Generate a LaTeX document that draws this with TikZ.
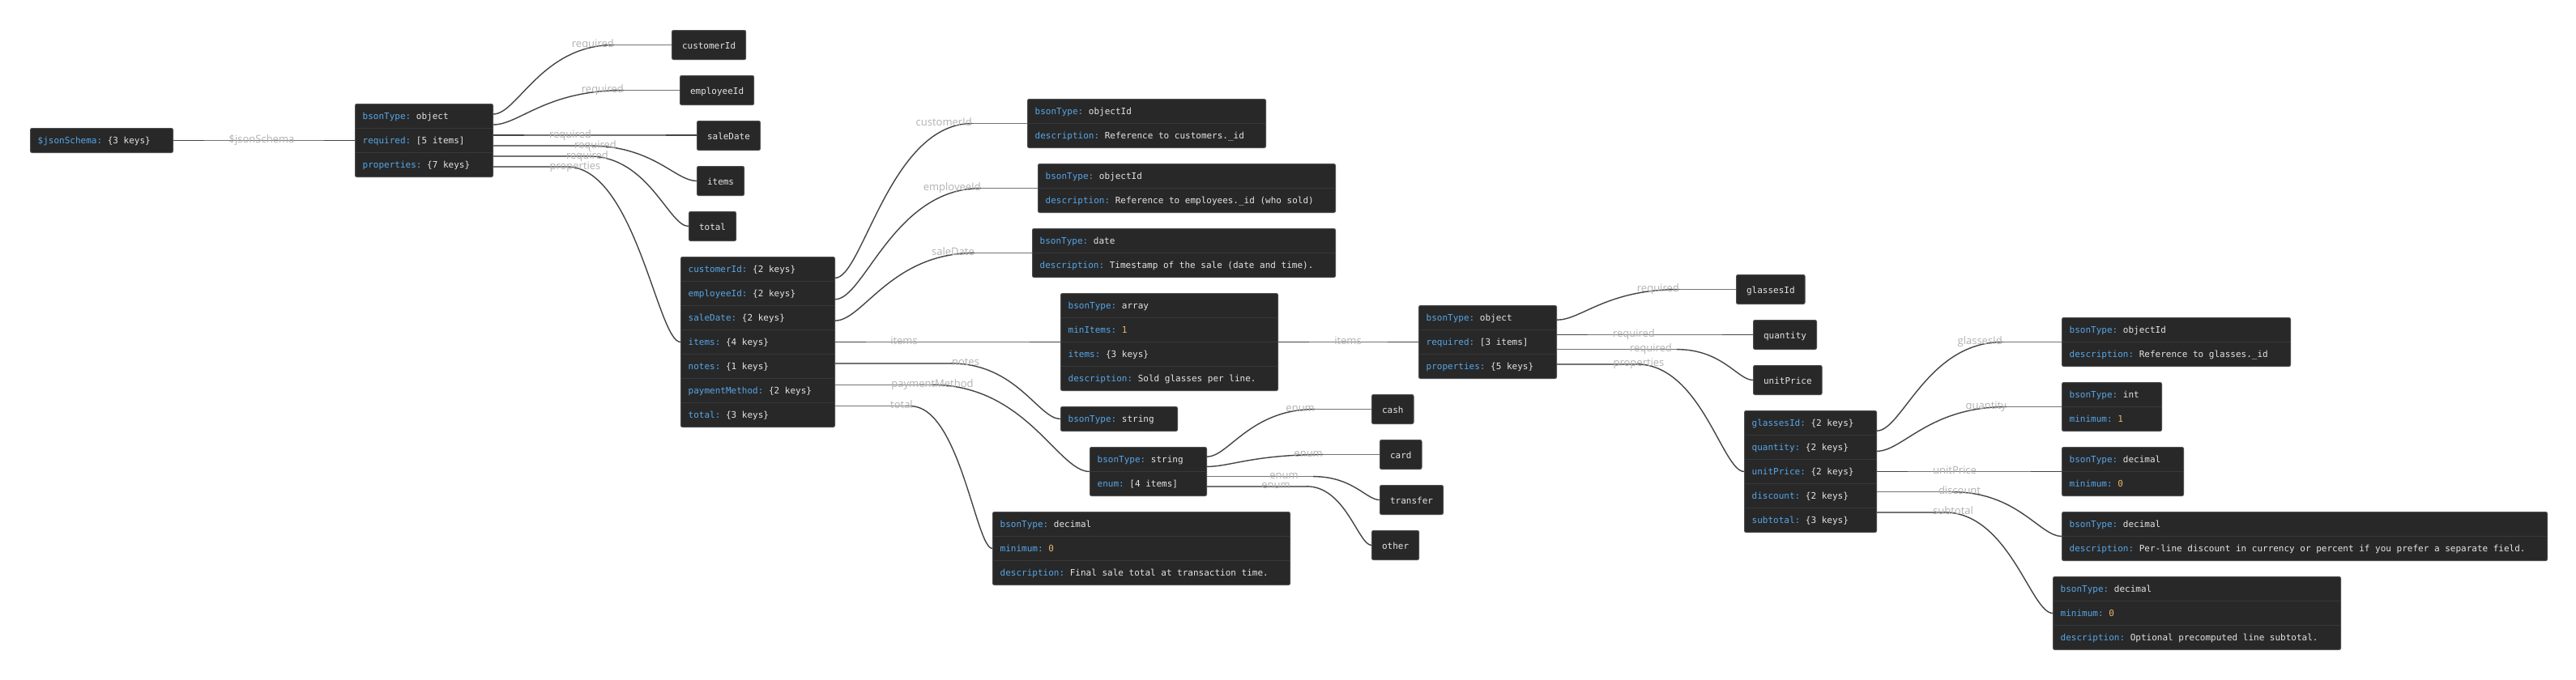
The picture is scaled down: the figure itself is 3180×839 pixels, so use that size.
\documentclass[tikz,border=0pt]{standalone}
\usepackage{fontspec}
\setmonofont{DejaVu Sans Mono}
\newfontfamily\edgefont{Open Sans}
\usetikzlibrary{calc,positioning}

\definecolor{boxfill}{HTML}{282828}
\definecolor{boxline}{HTML}{4D4D4D}
\definecolor{rowline}{HTML}{383838}
\definecolor{keyblue}{HTML}{56A6E8}
\definecolor{valwhite}{HTML}{E4E4E4}
\definecolor{numgold}{HTML}{E6B86A}
\definecolor{edgedark}{HTML}{444444}
\definecolor{edgelight}{HTML}{747474}
\definecolor{labelgray}{HTML}{B2B2B2}

\newcommand{\ky}[1]{\textcolor{keyblue}{#1}}
\newcommand{\nm}[1]{\textcolor{numgold}{#1}}

\tikzset{
  jbox/.style={draw=boxline, fill=boxfill, line width=1pt, rounded corners=2pt, inner sep=0pt, anchor=north west},
  jrow/.style={anchor=base west, inner sep=0pt, text=valwhite, font=\ttfamily\fontsize{11}{13}\selectfont},
  jleaf/.style={jbox, minimum height=36, inner xsep=12.5pt, text height=9.2pt, text depth=0pt, text=valwhite, font=\ttfamily\fontsize{11}{13}\selectfont},
  rowsep/.style={draw=rowline, line width=1pt},
  edgedk/.style={draw=edgedark, line width=1.4pt},
  edgelt/.style={draw=edgelight, line width=1.4pt},
  elabel/.style={text=labelgray, inner sep=0pt, font=\edgefont\fontsize{13}{15}\selectfont},
}

% name, top left, width, rows, row texts
\newcommand{\jsonbox}[5]{%
  \node[jbox, minimum width=#3, minimum height={#4*30}] (#1) at (#2) {};
  \foreach \rowtxt [count=\ri] in {#5}{%
    \node[jrow] at ($(#1.north west)+(9.5,{(\ri-0.5)*30+4.5})$) {\rowtxt};
    \ifnum\ri>1 \draw[rowsep] ($(#1.north west)+(0.5,{(\ri-1)*30})$) -- ++({#3-1},0);\fi
  }%
}
\newcommand{\jsonports}[2]{%
  \foreach \k in {1,...,#2}{\coordinate (#1p\k) at ($(#1.north east)!{\k/(#2+1)}!(#1.south east)$);}%
}

% source, target, label, end of curve
\newcommand{\edgeup}[4]{%
  \draw[edgedk] let \p1=(#1), \p2=(#2.west), \p3=(#4,0) in
    (\p1) .. controls ({\x1+0.2*(\x3-\x1)},\y1) and ({\x3-0.6*(\x3-\x1)},\y2) .. (\x3,\y2);
  \draw[edgelt] let \p2=(#2.west), \p3=(#4,0) in (\x3,\y2) -- (\p2);
  \path let \p2=(#2.west), \p3=(#4,0) in (\x3,\y2) node[elabel, anchor=base east, yshift=-3pt] {#3};
}
% source, target, label, start of curve, label x
\newcommand{\edgedown}[5]{%
  \draw[edgelt] let \p1=(#1), \p3=(#4,0) in (\p1) -- (\x3,\y1);
  \draw[edgedk] let \p1=(#1), \p2=(#2.west), \p3=(#4,0) in
    (\x3,\y1) .. controls ({\x3+0.6*(\x2-\x3)},\y1) and ({\x2-0.2*(\x2-\x3)},\y2) .. (\p2);
  \path let \p1=(#1), \p4=(#5,0) in (\x4,\y1) node[elabel, anchor=base, yshift=-3pt] {#3};
}
% source, target, label, label x
\newcommand{\edgeflat}[4]{%
  \draw[edgelt] (#1) -- (#1 -| #2.west);
  \draw[edgedk] (#1) -- ++(38,0);
  \draw[edgedk] (#1 -| #2.west) -- ++(-38,0);
  \path let \p1=(#1), \p4=(#4,0) in (\x4,\y1) node[elabel, anchor=base, yshift=-3pt] {#3};
}

\begin{document}
\begin{tikzpicture}[x=1pt, y=-1pt]
  \useasboundingbox[fill=white] (0,0) rectangle (3180,839);

  \jsonbox{js}{37,158}{176}{1}{{\ky{\$jsonSchema:} \{3 keys\}}}
  \jsonbox{root}{438,128}{170}{3}{{\ky{bsonType:} object},{\ky{required:} [5 items]},{\ky{properties:} \{7 keys\}}}
  \jsonbox{props}{840,317}{190}{7}{{\ky{customerId:} \{2 keys\}},{\ky{employeeId:} \{2 keys\}},{\ky{saleDate:} \{2 keys\}},{\ky{items:} \{4 keys\}},{\ky{notes:} \{1 keys\}},{\ky{paymentMethod:} \{2 keys\}},{\ky{total:} \{3 keys\}}}
  \jsonbox{cust}{1268,122}{294}{2}{{\ky{bsonType:} objectId},{\ky{description:} Reference to customers.\_id}}
  \jsonbox{empl}{1281,202}{367}{2}{{\ky{bsonType:} objectId},{\ky{description:} Reference to employees.\_id (who sold)}}
  \jsonbox{sdate}{1274,282}{374}{2}{{\ky{bsonType:} date},{\ky{description:} Timestamp of the sale (date and time).}}
  \jsonbox{arr}{1309,362}{268}{4}{{\ky{bsonType:} array},{\ky{minItems:} \nm{1}},{\ky{items:} \{3 keys\}},{\ky{description:} Sold glasses per line.}}
  \jsonbox{notesb}{1309,502}{144}{1}{{\ky{bsonType:} string}}
  \jsonbox{pay}{1345,552}{144}{2}{{\ky{bsonType:} string},{\ky{enum:} [4 items]}}
  \jsonbox{tot}{1225,632}{367}{3}{{\ky{bsonType:} decimal},{\ky{minimum:} \nm{0}},{\ky{description:} Final sale total at transaction time.}}
  \jsonbox{iobj}{1751,377}{170}{3}{{\ky{bsonType:} object},{\ky{required:} [3 items]},{\ky{properties:} \{5 keys\}}}
  \jsonbox{pobj}{2153,507}{163}{5}{{\ky{glassesId:} \{2 keys\}},{\ky{quantity:} \{2 keys\}},{\ky{unitPrice:} \{2 keys\}},{\ky{discount:} \{2 keys\}},{\ky{subtotal:} \{3 keys\}}}
  \jsonbox{gid}{2545,392}{282}{2}{{\ky{bsonType:} objectId},{\ky{description:} Reference to glasses.\_id}}
  \jsonbox{qty}{2545,472}{123}{2}{{\ky{bsonType:} int},{\ky{minimum:} \nm{1}}}
  \jsonbox{upr}{2545,552}{150}{2}{{\ky{bsonType:} decimal},{\ky{minimum:} \nm{0}}}
  \jsonbox{disc}{2545,632}{599}{2}{{\ky{bsonType:} decimal},{\ky{description:} Per-line discount in currency or percent if you prefer a separate field.}}
  \jsonbox{sub}{2534,712}{355}{3}{{\ky{bsonType:} decimal},{\ky{minimum:} \nm{0}},{\ky{description:} Optional precomputed line subtotal.}}

  \node[jleaf] (lcust) at (829,37) {customerId};
  \node[jleaf] (lempl) at (839,93) {employeeId};
  \node[jleaf] (lsale) at (860,149) {saleDate};
  \node[jleaf] (litems) at (860,205) {items};
  \node[jleaf] (ltotal) at (850,261) {total};
  \node[jleaf] (ecash) at (1693,487) {cash};
  \node[jleaf] (ecard) at (1703,543) {card};
  \node[jleaf] (etransfer) at (1703,599) {transfer};
  \node[jleaf] (eother) at (1693,655) {other};
  \node[jleaf] (lglass) at (2143,339) {glassesId};
  \node[jleaf] (lqty) at (2164,395) {quantity};
  \node[jleaf] (lprice) at (2164,451) {unitPrice};

  \jsonports{js}{1}
  \jsonports{root}{6}
  \jsonports{props}{7}
  \jsonports{arr}{1}
  \jsonports{pay}{4}
  \jsonports{iobj}{4}
  \jsonports{pobj}{5}

  \edgeflat{jsp1}{root}{\$jsonSchema}{323}
  \edgeup{rootp1}{lcust}{required}{758}
  \edgeup{rootp2}{lempl}{required}{770}
  \edgeflat{rootp3}{lsale}{required}{704}
  \edgedown{rootp4}{litems}{required}{727}{735}
  \edgedown{rootp5}{ltotal}{required}{727}{725}
  \edgedown{rootp6}{props}{properties}{700}{710}

  \edgeup{propsp1}{cust}{customerId}{1200}
  \edgeup{propsp2}{empl}{employeeId}{1211}
  \edgeup{propsp3}{sdate}{saleDate}{1203}
  \edgeflat{propsp4}{arr}{items}{1116}
  \edgedown{propsp5}{notesb}{notes}{1174}{1192}
  \edgedown{propsp6}{pay}{paymentMethod}{1150}{1151}
  \edgedown{propsp7}{tot}{total}{1124}{1113}

  \edgeflat{arrp1}{iobj}{items}{1664}
  \edgeup{payp1}{ecash}{enum}{1623}
  \edgeup{payp2}{ecard}{enum}{1633}
  \edgedown{payp3}{etransfer}{enum}{1621}{1585}
  \edgedown{payp4}{eother}{enum}{1613}{1575}

  \edgeup{iobjp1}{lglass}{required}{2073}
  \edgeflat{iobjp2}{lqty}{required}{2017}
  \edgedown{iobjp3}{lprice}{required}{2070}{2038}
  \edgedown{iobjp4}{pobj}{properties}{2020}{2023}

  \edgeup{pobjp1}{gid}{glassesId}{2472}
  \edgeup{pobjp2}{qty}{quantity}{2477}
  \edgeflat{pobjp3}{upr}{unitPrice}{2413}
  \edgedown{pobjp4}{disc}{discount}{2410}{2419}
  \edgedown{pobjp5}{sub}{subtotal}{2400}{2411}
\end{tikzpicture}
\end{document}
